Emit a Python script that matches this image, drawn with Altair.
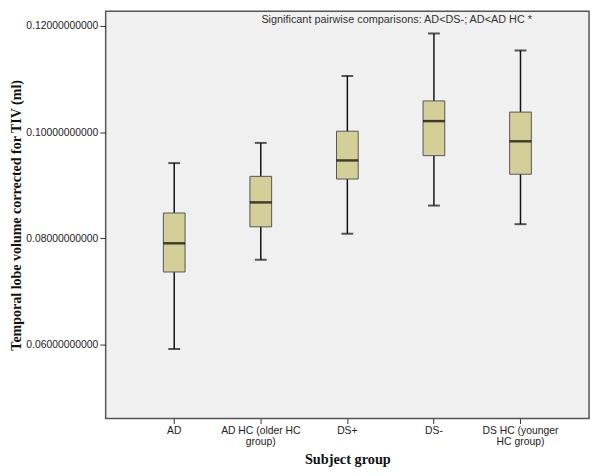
import altair as alt
import pandas as pd

groups = ["AD", "AD HC (older HC group)", "DS+", "DS-", "DS HC (younger HC group)"]
whisker_low = [0.0592, 0.0760, 0.0809, 0.0862, 0.0827]
q1 = [0.0737, 0.0822, 0.0912, 0.0956, 0.0921]
median = [0.0791, 0.0868, 0.0947, 0.1021, 0.0983]
q3 = [0.0848, 0.0917, 0.1002, 0.1059, 0.1038]
whisker_high = [0.0942, 0.0980, 0.1106, 0.1186, 0.1154]

y_ticks = [0.06, 0.08, 0.10, 0.12]
y_domain = [0.0461, 0.1228]
note = "Significant pairwise comparisons: AD<DS-; AD<AD HC *"

df = pd.DataFrame({
    "group": groups,
    "lo": whisker_low,
    "q1": q1,
    "med": median,
    "q3": q3,
    "hi": whisker_high,
})

label_expr = (
    "datum.label == 'AD HC (older HC group)' ? ['AD HC (older HC', 'group)'] : "
    "datum.label == 'DS HC (younger HC group)' ? ['DS HC (younger', 'HC group)'] : datum.label"
)

x = alt.X(
    "group:N",
    sort=groups,
    scale=alt.Scale(paddingInner=0.2, paddingOuter=0.392),
    axis=alt.Axis(
        title="Subject group",
        labelAngle=0,
        labelExpr=label_expr,
        labelFont="Liberation Sans",
        labelFontSize=10.5,
        labelColor="#222222",
        labelLineHeight=11,
        labelPadding=2,
        tickSize=5,
        tickColor="#333333",
        domain=False,
        titleFont="Liberation Serif",
        titleFontSize=14.5,
        titleFontWeight="bold",
        titleColor="#111111",
        titlePadding=6,
    ),
)

yscale = alt.Scale(domain=y_domain, nice=False, zero=False)
yaxis = alt.Axis(
    title="Temporal lobe volume corrected for TIV (ml)",
    values=y_ticks,
    format=".11f",
    grid=False,
    labelFont="Liberation Sans",
    labelFontSize=10.5,
    labelColor="#222222",
    labelPadding=2,
    tickSize=6,
    tickColor="#333333",
    domain=False,
    titleFont="Liberation Serif",
    titleFontSize=14.2,
    titleFontWeight="bold",
    titleColor="#111111",
    titlePadding=2,
)

base = alt.Chart(df)

whiskers = base.mark_rule(color="#111111", strokeWidth=1.5).encode(
    x=x,
    y=alt.Y("lo:Q", scale=yscale, axis=yaxis),
    y2="hi:Q",
)
caps_lo = base.mark_tick(color="#111111", size=12, thickness=2).encode(x=x, y=alt.Y("lo:Q"))
caps_hi = base.mark_tick(color="#111111", size=12, thickness=2).encode(x=x, y=alt.Y("hi:Q"))
boxes = base.mark_bar(size=22, fill="#d4cf98", stroke="#555555", strokeWidth=1).encode(
    x=x, y=alt.Y("q1:Q"), y2="q3:Q"
)
medians = base.mark_tick(color="#000000", size=22, thickness=2.5).encode(x=x, y=alt.Y("med:Q"))

note_df = pd.DataFrame({"group": ["DS+"], "v": [0.1211], "t": [note]})
note_mark = alt.Chart(note_df).mark_text(
    font="Liberation Sans", fontSize=11, color="#333333", align="center", baseline="middle", dx=50
).encode(x=alt.X("group:N", sort=groups), y=alt.Y("v:Q"), text="t:N")

chart = (
    alt.layer(whiskers, boxes, caps_lo, caps_hi, medians, note_mark)
    .properties(
        width=490,
        height=413,
        autosize=alt.AutoSizeParams(type="none"),
        padding={"left": 99, "top": 0, "right": 3, "bottom": 55},
        background="white",
    )
    .configure_view(fill="#f0f0f0", stroke="#555555", strokeWidth=1.5)
)

chart.save("out.html", embed_options={"renderer": "svg", "actions": False})
